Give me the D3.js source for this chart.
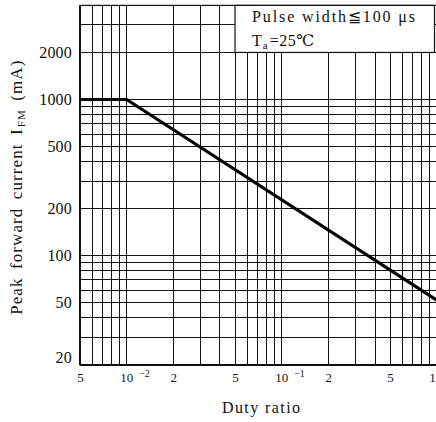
<!DOCTYPE html>
<html><head><meta charset="utf-8">
<script src="https://cdn.jsdelivr.net/npm/d3@7/dist/d3.min.js"></script>
<style>
html,body{margin:0;padding:0;background:#fff;}
svg{display:block;}
text{font-family:"Liberation Serif","DejaVu Serif",serif;fill:#111;}
</style></head>
<body>
<svg id="c" width="436" height="422"></svg>
<script>
// ---- data ----
const xTickValues = [0.005, 0.01, 0.02, 0.05, 0.1, 0.2, 0.5, 1];
const xTickLabels = ["5", "10", "2", "5", "10", "2", "5", "1"];
const xTickSup    = ["", "\u22122", "", "", "\u22121", "", "", ""];
const yTickValues = [20, 50, 100, 200, 500, 1000, 2000];
const curveDuty = [0.005, 0.01, 1];
const curveIFM  = [1000, 1000, 52];
const legendLines = ["Pulse  width\u2266100 \u03bcs", "T", "a", "=25\u2103"];

// ---- layout ----
const svg = d3.select("#c");
const L = 80, R = 436.7, T = 5.4, B = 365;
const x = d3.scaleLog().domain([0.005, 1]).range([L, R]);
const y = d3.scaleLog().domain([20, 4000]).range([B, T]);

// grid
const g = svg.append("g").attr("shape-rendering", "crispEdges");
g.selectAll("line.vx").data(x.ticks()).join("line")
  .attr("x1", d => x(d)).attr("x2", d => x(d))
  .attr("y1", T).attr("y2", B)
  .attr("stroke", "#111").attr("stroke-width", 1);
g.selectAll("line.hy").data(y.ticks()).join("line")
  .attr("y1", d => y(d)).attr("y2", d => y(d))
  .attr("x1", L).attr("x2", R)
  .attr("stroke", "#111").attr("stroke-width", 1);

// frame
svg.append("rect").attr("x", L).attr("y", T).attr("width", R - L).attr("height", B - T)
  .attr("fill", "none").attr("stroke", "#111").attr("stroke-width", 1.2);
svg.append("line").attr("x1", L).attr("x2", L).attr("y1", T).attr("y2", B)
  .attr("stroke", "#111").attr("stroke-width", 2);
svg.append("line").attr("x1", L).attr("x2", R).attr("y1", B).attr("y2", B)
  .attr("stroke", "#111").attr("stroke-width", 2);

// legend box
const bx = x(0.05), by = y(2000);
svg.append("rect").attr("x", bx).attr("y", T).attr("width", 434.5 - bx).attr("height", by - T)
  .attr("fill", "#fff").attr("stroke", "#111").attr("stroke-width", 1.2);
svg.append("text").attr("x", bx + 17).attr("y", 22).attr("font-size", 16)
  .attr("textLength", 163).attr("lengthAdjust", "spacing").text(legendLines[0]);
const t2 = svg.append("text").attr("x", bx + 17).attr("y", 46).attr("font-size", 16);
t2.append("tspan").text(legendLines[1]);
t2.append("tspan").attr("font-size", 11).attr("dy", 3).attr("dx", 1).text(legendLines[2]);
t2.append("tspan").attr("dy", -3).attr("dx", 2).attr("letter-spacing", 0.5).text(legendLines[3]);

// curve
const line = d3.line().x(d => x(d[0])).y(d => y(d[1]));
svg.append("path").datum(curveDuty.map((d, i) => [d, curveIFM[i]]))
  .attr("d", line).attr("fill", "none").attr("stroke", "#000").attr("stroke-width", 3.2)
  .attr("stroke-linejoin", "miter");

// x axis labels
const xa = svg.append("g").attr("transform", `translate(0,${B})`)
  .call(d3.axisBottom(x).tickValues(xTickValues).tickSize(0).tickPadding(0)
    .tickFormat((d, i) => xTickLabels[i]));
xa.select(".domain").remove();
xa.selectAll(".tick text").attr("font-family", "Liberation Serif, serif")
  .attr("font-size", 13).attr("fill", "#111").attr("y", 17).attr("dy", 0)
  .each(function(d, i) {
    if (xTickSup[i]) {
      d3.select(this).attr("text-anchor", "start").attr("dx", -7);
      d3.select(this).append("tspan").attr("font-size", 10).attr("dx", 6).attr("dy", -5)
        .text(xTickSup[i]);
    }
    if (i === xTickValues.length - 1) {
      d3.select(this).attr("text-anchor", "end").attr("dx", -1.5);
    }
  });

// y axis labels
const ya = svg.append("g").attr("transform", `translate(${L},0)`)
  .call(d3.axisLeft(y).tickValues(yTickValues).tickSize(0).tickPadding(8)
    .tickFormat(d => String(d)));
ya.select(".domain").remove();
ya.selectAll(".tick text").attr("font-family", "Liberation Serif, serif")
  .attr("font-size", 16).attr("fill", "#111").attr("letter-spacing", 0.2)
  .attr("dy", (d, i) => i === 0 ? "-0.15em" : "0.32em");

// axis titles
svg.append("text").attr("x", 261).attr("y", 413).attr("text-anchor", "middle")
  .attr("font-size", 16).attr("textLength", 78).attr("lengthAdjust", "spacing").text("Duty ratio");
const yt = svg.append("text").attr("transform", `translate(22,${(T + B) / 2 + 2}) rotate(-90)`)
  .attr("text-anchor", "middle").attr("font-size", 17).attr("letter-spacing", 1.1).attr("word-spacing", 3);
yt.append("tspan").text("Peak forward current I");
yt.append("tspan").attr("font-size", 11).attr("dy", 3).attr("dx", 1).text("FM");
yt.append("tspan").attr("dy", -3).text(" (mA)");
</script>
</body></html>
